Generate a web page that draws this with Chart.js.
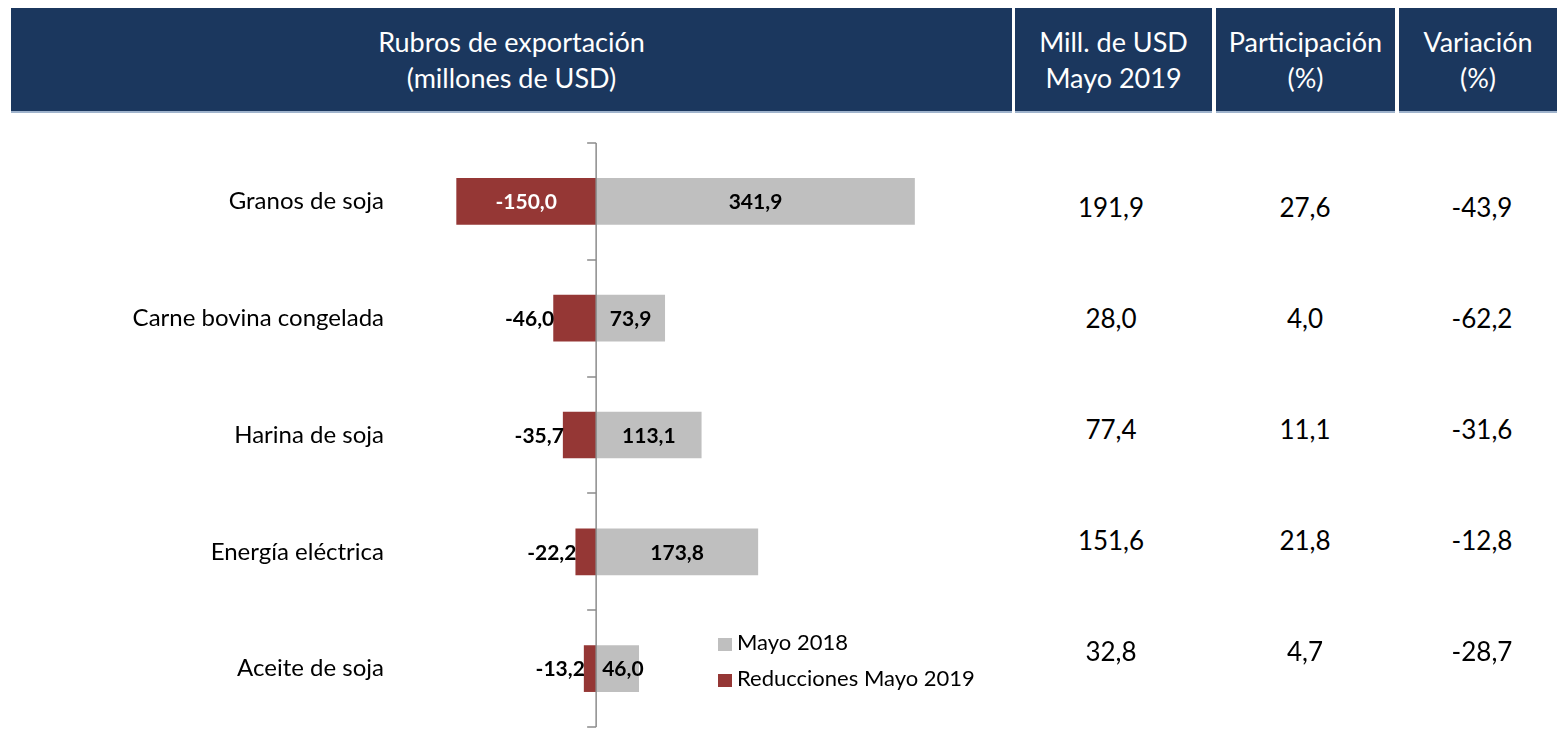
<!DOCTYPE html>
<html>
<head>
<meta charset="utf-8">
<script src="https://cdn.jsdelivr.net/npm/chart.js@4.4.1/dist/chart.umd.min.js"></script>
<style>
  body { margin: 0; background: #fff; font-family: Lato, "Open Sans", sans-serif; }
  #page { position: relative; width: 1564px; height: 730px; overflow: hidden; background: #fff; }
  .hdr { position: absolute; top: 8px; height: 103px; background: #1b375e; color: #fff;
         display: flex; align-items: center; justify-content: center; text-align: center;
         font-size: 27px; line-height: 36px; border-bottom: 2px solid #9fb3cc; }
  .val { position: absolute; width: 160px; margin-left: -80px; text-align: center;
         font-size: 26px; line-height: 30px; margin-top: -15px; color: #000; }
  #chartWrap { position: absolute; left: 0; top: 0; width: 1000px; height: 730px; }
  .leg { position: absolute; left: 718px; font-size: 22px; line-height: 26px; color: #000; }
  .leg i { display: inline-block; width: 14px; height: 13px; margin-right: 5px; vertical-align: -1px; }
</style>
</head>
<body>
<div id="page">
  <div class="hdr" style="left:11px;width:1001px">Rubros de exportación<br>(millones de USD)</div>
  <div class="hdr" style="left:1015px;width:197px">Mill. de USD<br>Mayo 2019</div>
  <div class="hdr" style="left:1216px;width:179px">Participación<br>(%)</div>
  <div class="hdr" style="left:1399px;width:158px">Variación<br>(%)</div>

  <div id="chartWrap"><canvas id="myChart"></canvas></div>

  <div class="leg" style="top:629px"><i style="background:#bfbfbf"></i>Mayo 2018</div>
  <div class="leg" style="top:665px"><i style="background:#953735"></i>Reducciones Mayo 2019</div>
  <div id="table"></div>
</div>

<script>
// chart data
const categories = ['Granos de soja', 'Carne bovina congelada', 'Harina de soja', 'Energía eléctrica', 'Aceite de soja'];
const mayo2018 = [341.9, 73.9, 113.1, 173.8, 46.0];
const reducciones2019 = [-150.0, -46.0, -35.7, -22.2, -13.2];

// table columns at the right
const millUSD2019 = ['191,9', '28,0', '77,4', '151,6', '32,8'];
const participacion = ['27,6', '4,0', '11,1', '21,8', '4,7'];
const variacion = ['-43,9', '-62,2', '-31,6', '-12,8', '-28,7'];

const tableCols = [[millUSD2019, 1111], [participacion, 1305], [variacion, 1482]];
const rowY = [207, 318, 429, 540, 651];
const table = document.getElementById('table');
tableCols.forEach(([vals, cx]) => {
    vals.forEach((v, i) => {
        const d = document.createElement('div');
        d.className = 'val';
        d.style.left = cx + 'px';
        d.style.top = rowY[i] + 'px';
        d.textContent = v;
        table.appendChild(d);
    });
});

const fmt = (v) => v.toFixed(1).replace('.', ',');

// draws the zero axis with its tick marks and the value labels
const axisAndLabels = {
    id: 'axisAndLabels',
    afterDatasetsDraw(chart) {
        const { ctx, chartArea, scales: { x, y } } = chart;
        const x0 = x.getPixelForValue(0);
        ctx.save();
        ctx.strokeStyle = '#8c8c8c';
        ctx.lineWidth = 1.5;
        ctx.beginPath();
        ctx.moveTo(x0, chartArea.top);
        ctx.lineTo(x0, chartArea.bottom);
        for (let i = 0; i <= categories.length; i++) {
            const yy = Math.round(y.getPixelForValue(i - 0.5));
            ctx.moveTo(x0 - 9, yy);
            ctx.lineTo(x0, yy);
        }
        ctx.stroke();

        ctx.font = 'bold 21px Lato, sans-serif';
        ctx.textBaseline = 'middle';
        // negative bars
        chart.getDatasetMeta(1).data.forEach((bar, i) => {
            const txt = fmt(reducciones2019[i]);
            const w = ctx.measureText(txt).width;
            const left = Math.min(bar.x, bar.base);
            if (Math.abs(bar.x - bar.base) > w + 20) {
                ctx.fillStyle = '#fff';
                ctx.textAlign = 'center';
                ctx.fillText(txt, (bar.x + bar.base) / 2, bar.y + 1);
            } else {
                ctx.fillStyle = '#000';
                ctx.textAlign = 'right';
                ctx.fillText(txt, left + 1, bar.y + 1);
            }
        });
        // positive bars
        ctx.fillStyle = '#000';
        ctx.textAlign = 'center';
        chart.getDatasetMeta(0).data.forEach((bar, i) => {
            const txt = fmt(mayo2018[i]);
            const w = ctx.measureText(txt).width;
            const cx = Math.max((bar.x + bar.base) / 2, bar.base + 6 + w / 2);
            ctx.fillText(txt, cx, bar.y + 1);
        });
        ctx.restore();
    }
};

new Chart(document.getElementById('myChart'), {
    type: 'bar',
    data: {
        labels: categories,
        datasets: [
            {
                label: 'Mayo 2018',
                data: mayo2018,
                backgroundColor: '#bfbfbf',
                barPercentage: 0.4,
                categoryPercentage: 1,
            },
            {
                label: 'Reducciones Mayo 2019',
                data: reducciones2019,
                backgroundColor: '#953735',
                barPercentage: 0.4,
                categoryPercentage: 1,
            },
        ],
    },
    options: {
        indexAxis: 'y',
        responsive: true,
        maintainAspectRatio: false,
        animation: false,
        devicePixelRatio: 1,
        layout: { padding: { top: 143, bottom: 3, right: 31, left: 0 } },
        plugins: { legend: { display: false }, tooltip: { enabled: false } },
        scales: {
            x: {
                stacked: true,
                min: -160,
                max: 400,
                display: false,
            },
            y: {
                stacked: true,
                afterFit: (s) => {
                    s.width = 447;
                    s.paddingTop = 0;
                    s.paddingBottom = 0;
                },
                grid: { display: false, drawTicks: false },
                border: { display: false },
                ticks: {
                    padding: 63,
                    color: '#000',
                    font: { family: 'Lato, sans-serif', size: 24 },
                },
            },
        },
    },
    plugins: [axisAndLabels],
});
</script>
</body>
</html>
